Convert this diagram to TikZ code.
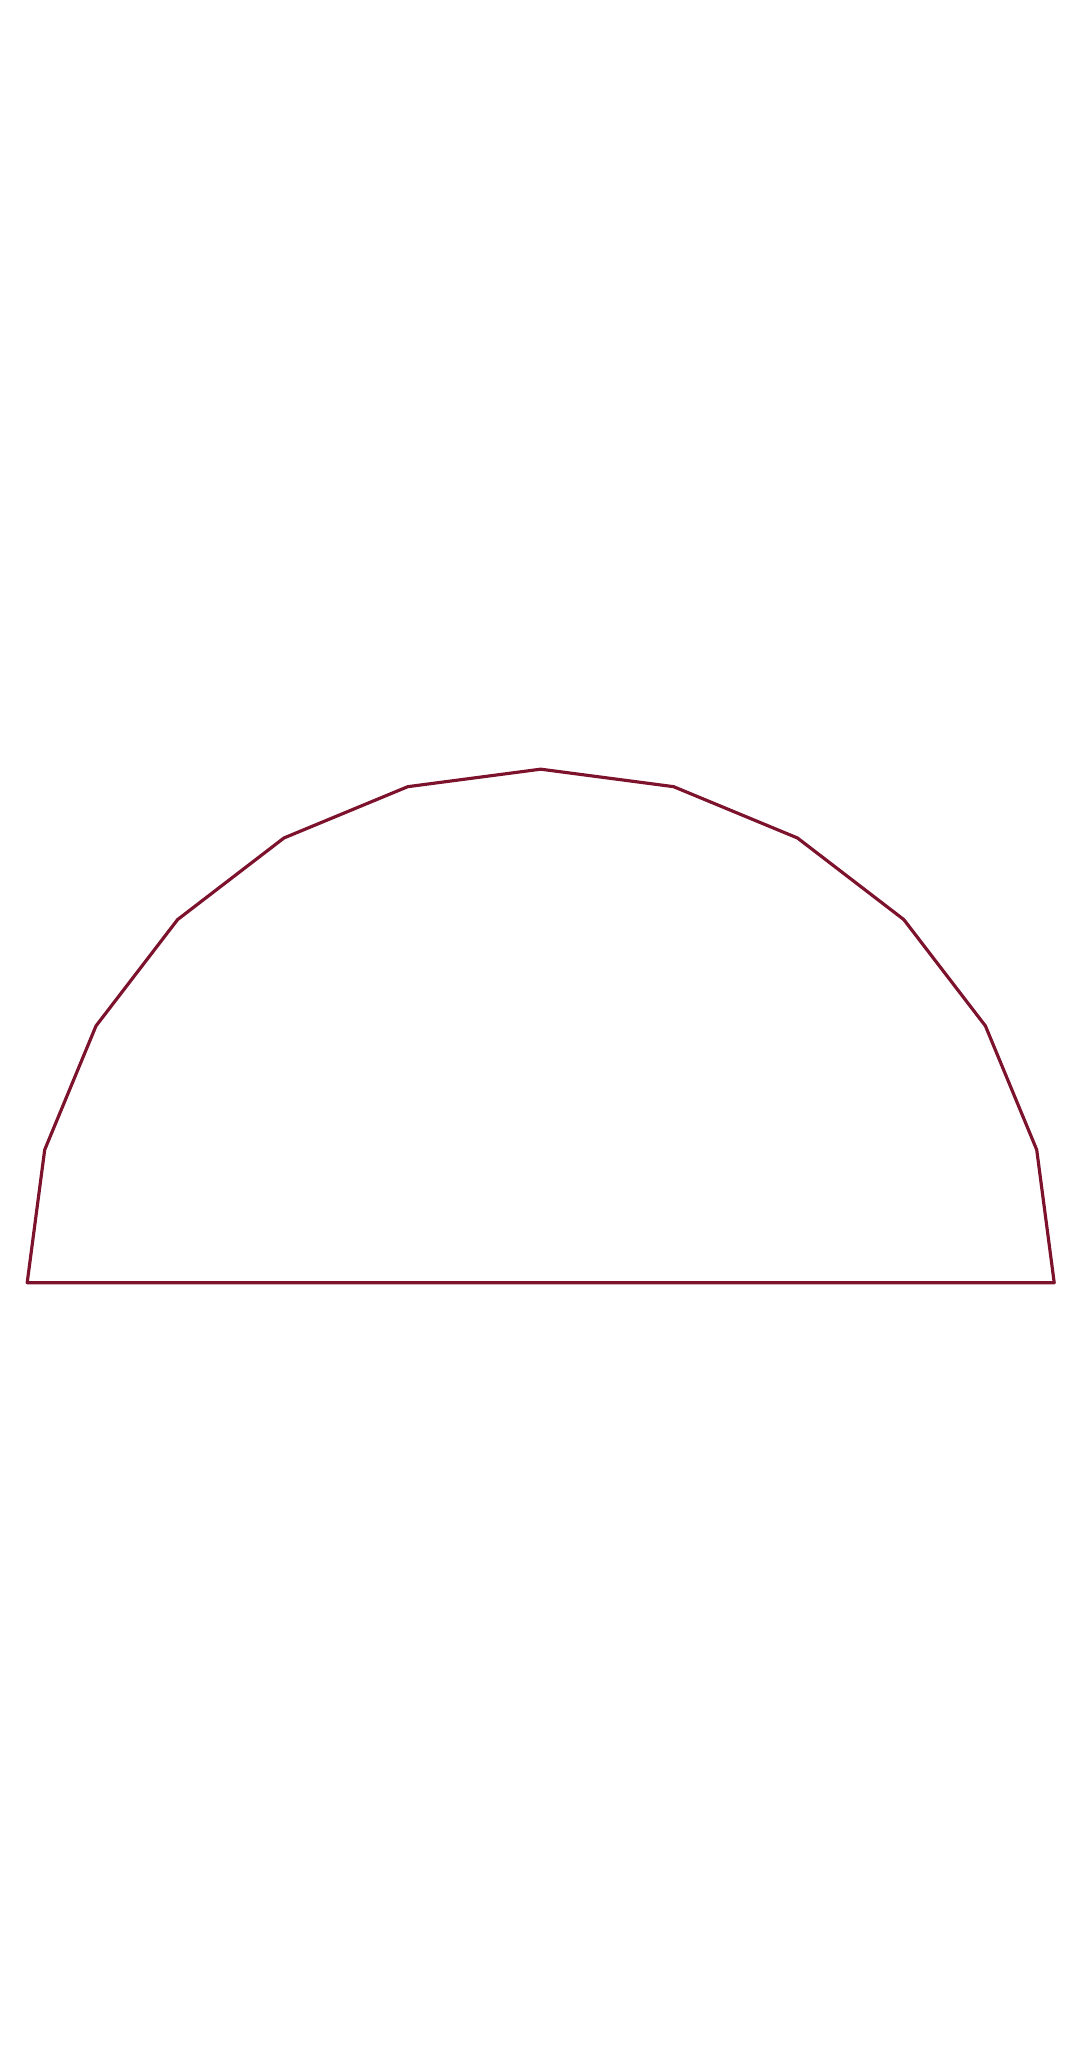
\documentclass[tikz,border=0pt]{standalone}
\usetikzlibrary{calc}
\definecolor{arcred}{RGB}{125,18,45}
\begin{document}
\begin{tikzpicture}[x=0.01cm,y=0.01cm,
  polyline/.style={draw=arcred,line width=0.9pt,line join=round,line cap=round}]
\useasboundingbox (0,0) rectangle (1082,2052);
\coordinate (c) at (540.7,769.3);
\foreach \i in {0,...,12}{
  \coordinate (p\i) at ($(c)+({15*\i}:513.5)$);
}
\draw[polyline] (p0) \foreach \i in {1,...,12}{ -- (p\i)} -- cycle;
\end{tikzpicture}
\end{document}
